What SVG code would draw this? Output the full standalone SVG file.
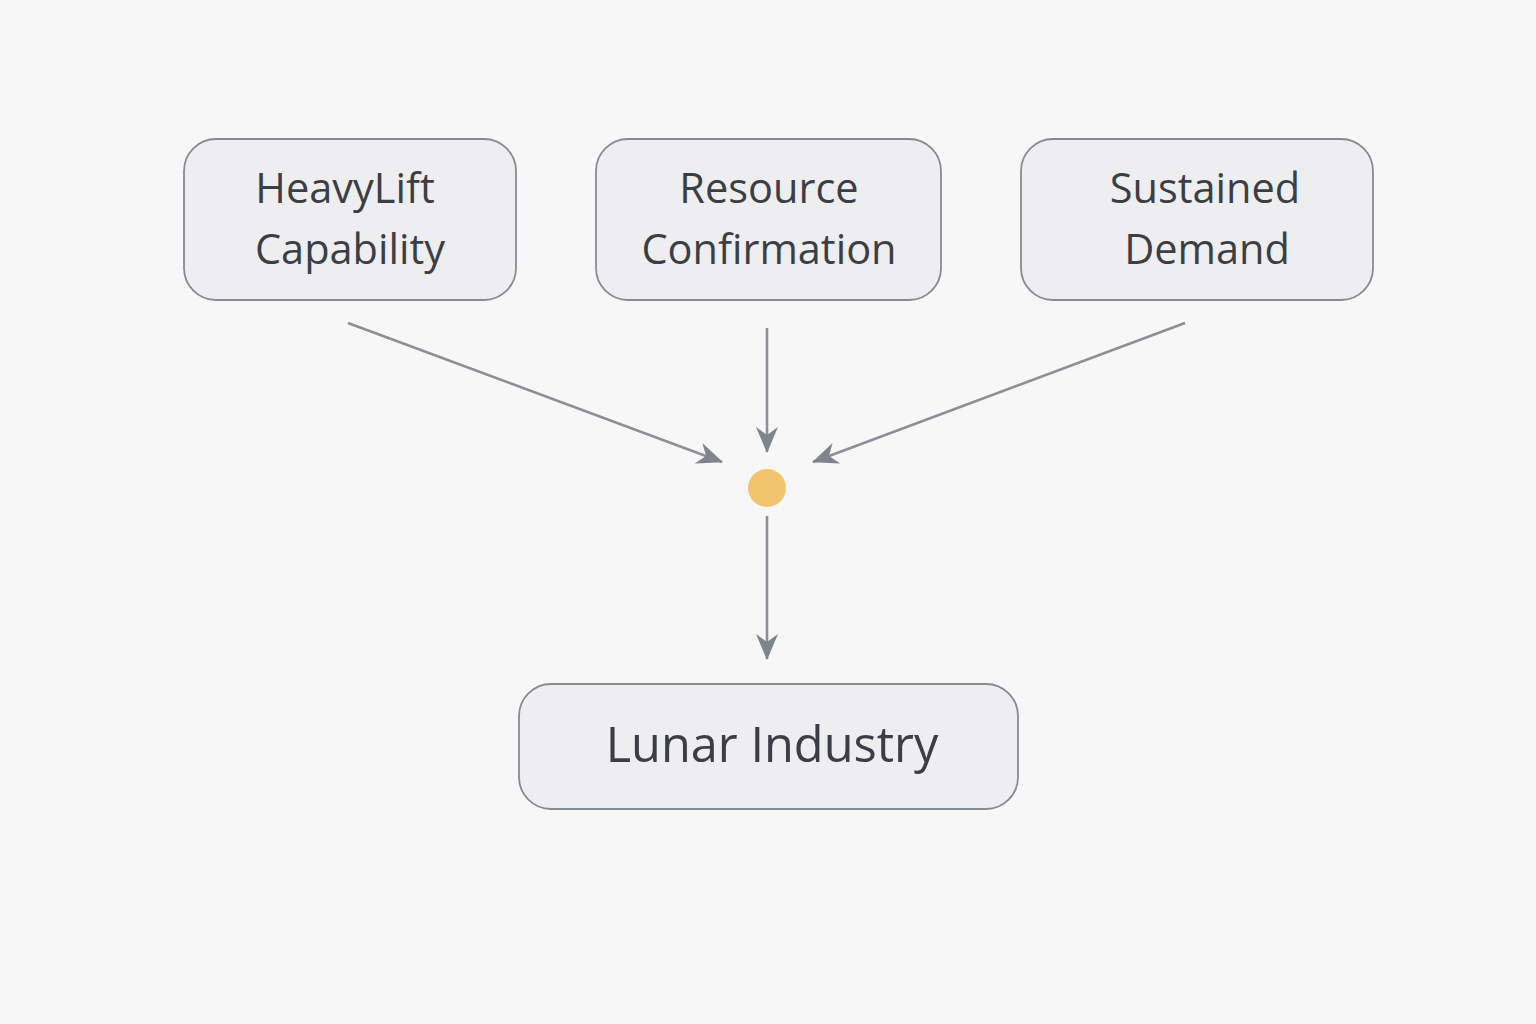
<svg xmlns="http://www.w3.org/2000/svg" width="1536" height="1024" viewBox="0 0 1536 1024">
<defs>
<style>
.node rect{fill:#eeeef0;stroke:#868b92;stroke-width:1.8}
.node text{font-family:"Open Sans","Noto Sans","Liberation Sans",sans-serif;fill:#3b3f45;text-anchor:middle}
.t{font-size:41.5px}
.big{font-size:48.7px}
.edge{stroke:#8a9097;stroke-width:2.6;fill:none}
</style>
<marker id="arr" viewBox="0 0 28 24" refX="26" refY="12" markerWidth="28" markerHeight="24" markerUnits="userSpaceOnUse" orient="auto">
<path d="M1,1 L27,12 L1,23 L9,12 Z" fill="#7f858d"/>
</marker>
</defs>
<rect width="1536" height="1024" fill="#f8f7f7"/>
<g id="connectors">
<line class="edge" x1="348" y1="323" x2="722" y2="462" marker-end="url(#arr)"/>
<line class="edge" x1="767" y1="328" x2="767" y2="452" marker-end="url(#arr)"/>
<line class="edge" x1="1185" y1="323" x2="813" y2="462" marker-end="url(#arr)"/>
<line class="edge" x1="767" y1="516" x2="767" y2="659" marker-end="url(#arr)"/>
</g>
<g id="junction">
<circle cx="767" cy="488" r="19" fill="#f2c46d"/>
</g>
<g id="node-heavylift" class="node">
<rect x="184" y="139" width="332" height="161" rx="32"/>
<text class="t" x="345" y="203">HeavyLift</text>
<text class="t" x="350" y="264">Capability</text>
</g>
<g id="node-resource" class="node">
<rect x="596" y="139" width="345" height="161" rx="32"/>
<text class="t" x="769" y="203">Resource</text>
<text class="t" x="769" y="264">Confirmation</text>
</g>
<g id="node-demand" class="node">
<rect x="1021" y="139" width="352" height="161" rx="32"/>
<text class="t" x="1205" y="203">Sustained</text>
<text class="t" x="1207" y="264">Demand</text>
</g>
<g id="node-lunar" class="node">
<rect x="519" y="684" width="499" height="125" rx="32"/>
<text class="big" x="772" y="762">Lunar Industry</text>
</g>
</svg>
